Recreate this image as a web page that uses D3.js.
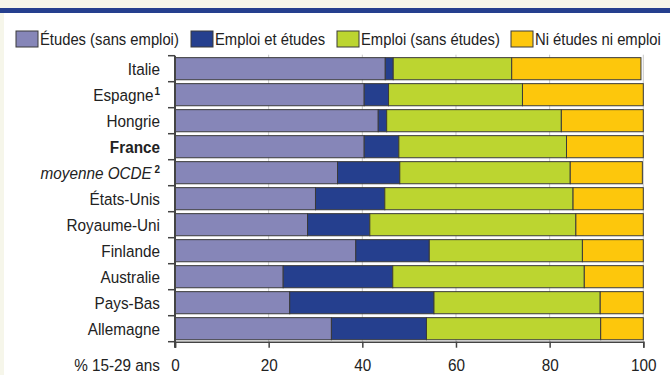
<!DOCTYPE html>
<html><head><meta charset="utf-8">
<script src="https://cdn.jsdelivr.net/npm/d3@7"></script>
<style>
html,body{margin:0;padding:0;background:#f6f6ea;}
svg{display:block;}
text{font-family:"Liberation Sans",Arial,sans-serif;fill:#222;}
</style></head>
<body>
<svg id="chart" width="670" height="375"></svg>
<script>
const countries = ["Italie","Espagne","Hongrie","France","moyenne OCDE","États-Unis","Royaume-Uni","Finlande","Australie","Pays-Bas","Allemagne"];
const superscripts = ["","1","","","2","","","","","",""];
const seriesNames = ["Études (sans emploi)","Emploi et études","Emploi (sans études)","Ni études ni emploi"];
const etudesSansEmploi = [44.9,40.4,43.4,40.4,34.7,30.0,28.3,38.6,23.1,24.5,33.4];
const emploiEtEtudes   = [1.7,5.2,1.8,7.4,13.3,14.8,13.3,15.7,23.4,30.8,20.3];
const emploiSansEtudes = [25.3,28.6,37.3,35.8,36.4,40.2,44.0,32.7,40.9,35.5,37.2];
const niEtudesNiEmploi = [27.6,25.8,17.5,16.4,15.4,15.0,14.4,13.0,12.6,9.2,9.1];
const xTicks = [0,20,40,60,80,100];
const axisTitle = "% 15-29 ans";
const colors = ["#8686b8","#253f8e","#bcd530","#fdc70c"];
const SX = 0.9;

const svg = d3.select("#chart");
svg.append("rect").attr("x",4).attr("y",13).attr("width",666).attr("height",362).attr("fill","#ffffff");
svg.append("rect").attr("x",0).attr("y",8).attr("width",670).attr("height",5).attr("fill","#253f8e");

const x = d3.scaleLinear().domain([0,100]).range([175,643.3]);
const y = d3.scaleBand().domain(countries).range([55.7,341.7]).paddingInner(0.15).paddingOuter(0.075);

// gridlines
svg.append("g").selectAll("line").data(xTicks.slice(1)).join("line")
  .attr("x1",d=>x(d)).attr("x2",d=>x(d)).attr("y1",y.range()[0]-1).attr("y2",y.range()[1])
  .attr("stroke","#c8c8c8").attr("stroke-width",1);

const series = [etudesSansEmploi,emploiEtEtudes,emploiSansEtudes,niEtudesNiEmploi];
const rows = countries.map((c,i)=>{const o={country:c}; series.forEach((s,k)=>o["s"+k]=s[i]); return o;});
const stack = d3.stack().keys(["s0","s1","s2","s3"])(rows);

svg.append("g").selectAll("g").data(stack).join("g").attr("fill",(d,i)=>colors[i])
  .selectAll("rect").data(d=>d).join("rect")
  .attr("x",d=>x(d[0])).attr("width",d=>x(d[1])-x(d[0]))
  .attr("y",d=>y(d.data.country)).attr("height",y.bandwidth())
  .attr("stroke","#3a3a3a").attr("stroke-width",1);

// left axis
svg.append("line").attr("x1",175).attr("x2",175).attr("y1",y.range()[0]).attr("y2",y.range()[1]+6).attr("stroke","#444").attr("stroke-width",2);
const bounds = d3.range(countries.length+1).map(i=>y.range()[0]+i*y.step());
svg.append("g").selectAll("line").data(bounds).join("line")
  .attr("x1",168).attr("x2",175).attr("y1",d=>d).attr("y2",d=>d).attr("stroke","#444").attr("stroke-width",1.5);

// bottom axis
const xAxis = svg.append("g").attr("transform",`translate(0,${y.range()[1]})`)
  .call(d3.axisBottom(x).tickValues(xTicks).tickSize(6).tickPadding(4));
xAxis.attr("font-family",null).attr("font-size",null);
xAxis.select(".domain").attr("stroke","#444").attr("stroke-width",1.5);
xAxis.selectAll(".tick line").attr("stroke","#444").attr("stroke-width",1.5);
xAxis.selectAll("text").attr("font-size",17).attr("fill","#222").attr("y",0).attr("dy",null)
  .attr("transform",`translate(0,29.3) scale(${SX},1)`);

svg.append("text").attr("transform",`translate(160,371) scale(${SX},1)`).attr("text-anchor","end").attr("font-size",17).text(axisTitle);

// y labels
const lab = svg.append("g").selectAll("text").data(countries).join("text")
  .attr("transform",d=>`translate(160,${y(d)+y.bandwidth()/2+6.5}) scale(${SX},1)`).attr("text-anchor","end").attr("font-size",17)
  .attr("font-weight",(d)=>d==="France"?"bold":null)
  .attr("font-style",(d)=>d==="moyenne OCDE"?"italic":null);
lab.each(function(d,i){
  const t=d3.select(this);
  t.append("tspan").text(d);
  if(superscripts[i]){
    t.append("tspan").attr("font-size",11).attr("font-weight","bold").attr("font-style","normal").attr("dy",-6).attr("dx",i===4?3:1).text(superscripts[i]);
  }
});

// legend
const legX = [16,191,337,511];
const leg = svg.append("g").selectAll("g").data(seriesNames).join("g")
  .attr("transform",(d,i)=>`translate(${legX[i]},31)`);
leg.append("rect").attr("width",22).attr("height",16).attr("fill",(d,i)=>colors[i]).attr("stroke","#3a3a3a").attr("stroke-width",1);
leg.append("text").attr("transform",`translate(24,14) scale(0.87,1)`).attr("font-size",17).text(d=>d);
</script>
</body></html>
